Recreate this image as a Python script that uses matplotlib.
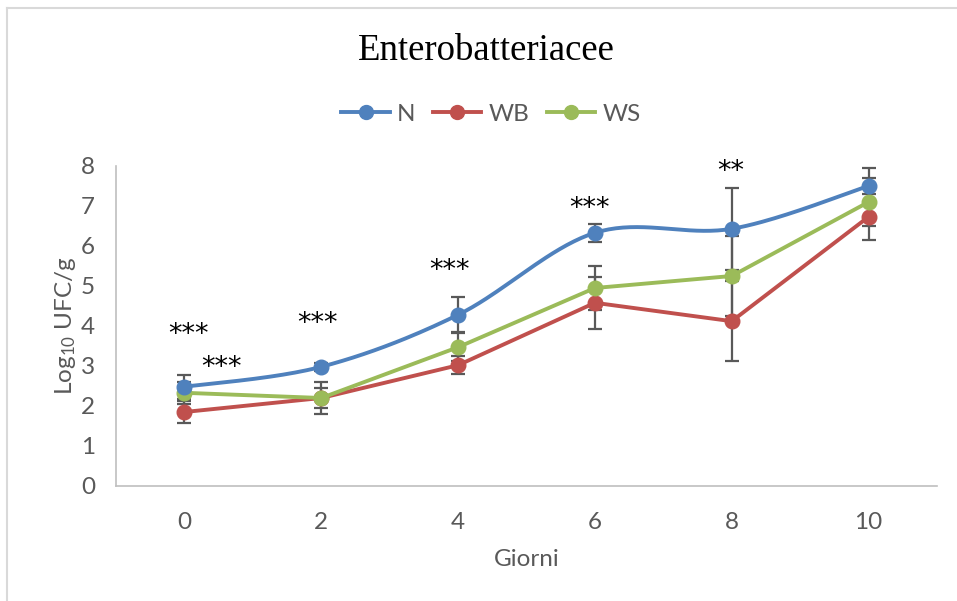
import numpy as np
import matplotlib
matplotlib.use("Agg")
import matplotlib.pyplot as plt
from matplotlib.lines import Line2D

plt.rcParams['font.family'] = ['Lato', 'DejaVu Sans']
plt.rcParams['mathtext.default'] = 'regular'

# data
giorni = ['0', '2', '4', '6', '8', '10']
valN = [2.48, 2.98, 4.28, 6.33, 6.43, 7.50]
valWB = [1.85, 2.20, 3.02, 4.58, 4.12, 6.73]
valWS = [2.33, 2.20, 3.47, 4.95, 5.25, 7.10]
errN = [0.30, 0.10, 0.44, 0.22, 1.03, 0.45]
errWB = [0.28, 0.40, 0.22, 0.65, 1.00, 0.58]
errWS = [0.28, 0.25, 0.35, 0.55, 1.00, 0.60]

# significance marks: (text, category position, height)
stelle = ['***', '***', '***', '***', '***', '**']
stelleX = [0.03, 0.27, 0.97, 1.94, 2.96, 3.99]
stelleY = [3.93, 3.10, 4.20, 5.52, 7.07, 8.00]

colN = '#4F81BD'
colWB = '#C0504D'
colWS = '#9BBB59'
grigio = '#595959'
fs = 17.5


def smoothCurve(x, y, n=40):
    # Excel-like smoothed line: bezier segments with catmull-rom control points
    x = np.asarray(x, float)
    y = np.asarray(y, float)
    pts = np.column_stack([x, y])
    out = []
    for i in range(len(pts) - 1):
        p0 = pts[max(i - 1, 0)]
        p1 = pts[i]
        p2 = pts[i + 1]
        p3 = pts[min(i + 2, len(pts) - 1)]
        c1 = p1 + (p2 - p0) / 6.0
        c2 = p2 - (p3 - p1) / 6.0
        t = np.linspace(0, 1, n)[:, None]
        seg = ((1 - t) ** 3) * p1 + 3 * ((1 - t) ** 2) * t * c1 + 3 * (1 - t) * t ** 2 * c2 + t ** 3 * p2
        out.append(seg if i == 0 else seg[1:])
    out = np.vstack(out)
    return out[:, 0], out[:, 1]


fig = plt.figure(figsize=(9.57, 6.01), dpi=100)
ax = fig.add_axes([116 / 957, 1 - 486 / 601, (937 - 116) / 957, (486 - 166) / 601])

x = np.arange(len(giorni))

for vals, errs, col in [(valN, errN, colN), (valWB, errWB, colWB), (valWS, errWS, colWS)]:
    ax.errorbar(x, vals, yerr=errs, fmt='none', ecolor=grigio, elinewidth=1.6,
                capsize=5, capthick=1.6, zorder=2)

xs, ys = smoothCurve(x, valN)
ax.plot(xs, ys, color=colN, lw=2.8, zorder=3, solid_capstyle='round')
ax.plot(x, valN, 'o', color=colN, ms=10.5, zorder=4)
ax.plot(x, valWB, '-o', color=colWB, lw=2.8, ms=10.5, zorder=3)
ax.plot(x, valWS, '-o', color=colWS, lw=2.8, ms=10.5, zorder=3)

for s, sx, sy in zip(stelle, stelleX, stelleY):
    ax.annotate(s, (sx, sy), xytext=(0, -4.5), textcoords='offset points',
                ha='center', va='center', fontsize=19.5, family='DejaVu Sans',
                color='black', zorder=5)

ax.set_xlim(-0.5, len(giorni) - 0.5)
ax.set_ylim(0, 8)
ax.set_xticks(x)
ax.set_xticklabels(giorni)
ax.set_yticks(range(0, 9))
ax.tick_params(axis='both', length=0, labelsize=fs, colors=grigio)
ax.tick_params(axis='y', pad=15)
ax.tick_params(axis='x', pad=19)
for side in ['top', 'right']:
    ax.spines[side].set_visible(False)
for side in ['left', 'bottom']:
    ax.spines[side].set_color('#BFBFBF')
    ax.spines[side].set_linewidth(1.2)

ax.set_xlabel('Giorni', fontsize=fs, color=grigio, labelpad=11)
ax.set_ylabel('Log$_{10}$ UFC/g', fontsize=fs, color=grigio, labelpad=2)

fig.text(486 / 957, 1 - 51 / 601, 'Enterobatteriacee', ha='center', va='center',
         fontsize=26.5, family='Liberation Serif', color='black')

handles = [Line2D([], [], color=c, lw=2.8, marker='o', ms=10) for c in [colN, colWB, colWS]]
leg = fig.legend(handles, ['N', 'WB', 'WS'], loc='center', bbox_to_anchor=(491 / 957, 1 - 114 / 601),
                 ncol=3, frameon=False, fontsize=fs, handlelength=2.0, columnspacing=0.7,
                 handletextpad=0.3)
for t in leg.get_texts():
    t.set_color(grigio)

# outer frame (only top and left edges visible in the reference)
fig.add_artist(Line2D([7 / 957, 7 / 957], [0, 1 - 8 / 601], color='#D9D9D9', lw=1.5,
                      transform=fig.transFigure))
fig.add_artist(Line2D([7 / 957, 1], [1 - 8 / 601, 1 - 8 / 601], color='#D9D9D9', lw=1.5,
                      transform=fig.transFigure))

fig.savefig('out.png', dpi=100)
